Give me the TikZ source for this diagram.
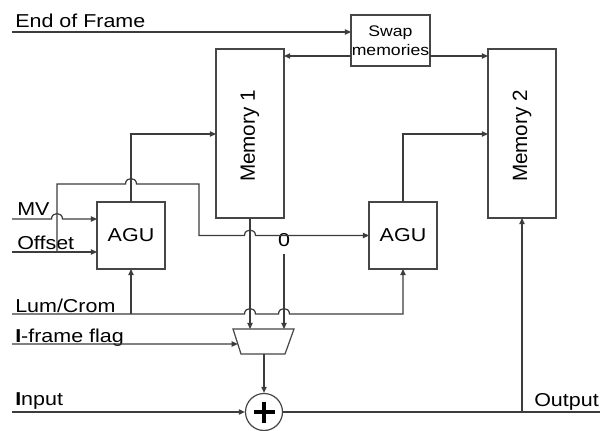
\documentclass[tikz,border=0pt]{standalone}
\usepackage{fontspec}
\setmainfont{Liberation Sans}[FakeStretch=1.15]
\newfontfamily\memfont{Liberation Sans}
\usetikzlibrary{arrows.meta,calc}
\definecolor{linec}{RGB}{60,60,60}
\definecolor{boxc}{RGB}{70,70,70}
\newcommand\hopover[2]{-- ({#1-5.5},#2) .. controls ({#1-5.5},{#2-7.3}) and ({#1+5.5},{#2-7.3}) .. ({#1+5.5},#2)}
\begin{document}
\begin{tikzpicture}[x=0.75pt,y=-0.75pt,
  conn/.style={draw=linec, line width=0.9pt},
  arr/.style={-{Triangle[length=4.6pt,width=4pt]}},
  box/.style={draw=boxc, line width=0.9pt, fill=white, inner sep=0pt, outer sep=0pt},
  membox/.style={box, minimum width=51pt, minimum height=126.75pt},
  agubox/.style={box, minimum width=51pt, minimum height=50.25pt, font=\fontsize{14}{16}\selectfont},
  lbl/.style={anchor=base west, inner sep=0pt, font=\fontsize{14}{16}\selectfont},
  memtxt/.style={rotate=90, font=\memfont\fontsize{15.5}{18}\selectfont}
]
\fill[white] (0,0) rectangle (600,431);
\useasboundingbox (0,0) rectangle (600,431);

% boxes
\node[box, minimum width=59.25pt, minimum height=38.25pt, align=center,
      font=\fontsize{11.5}{14}\selectfont] (swap) at (390.5,40.5) {Swap\\memories};
\node[membox] (mem1) at (250,133.5) {};
\node[memtxt] (mem1t) at (250,136) {Memory 1};
\node[membox] (mem2) at (522,133.5) {};
\node[memtxt] (mem2t) at (522,136) {Memory 2};
\node[agubox] (agu1) at (131,235.5) {AGU};
\node[agubox] (agu2) at (403,235.5) {AGU};
\node[draw=boxc, line width=0.9pt, circle, minimum size=27.75pt, inner sep=0pt] (adder) at (264,412) {};
\draw[line width=3.2pt, black] ($(adder)+(-10.5,0)$) -- ($(adder)+(10.5,0)$)
      ($(adder)+(0,-10.5)$) -- ($(adder)+(0,10.5)$);

% multiplexer
\coordinate (muxTL) at (233,329);
\coordinate (muxTR) at (294,329);
\coordinate (muxBR) at (285,354);
\coordinate (muxBL) at (241,354);
\coordinate (muxB) at (264,354);
\draw[box] (muxTL) -- (muxTR) -- (muxBR) -- (muxBL) -- cycle;

% labels
\node[lbl] (tEOF) at (15,27.5) {End of Frame};
\node[lbl] (tMV) at (17,216) {MV};
\node[lbl] (tOff) at (17,249) {Offset};
\node[lbl] (tLum) at (15,312.5) {Lum/Crom};
\node[lbl] (tIfr) at (15,342) {\textbf{I}-frame flag};
\node[lbl] (tIn) at (15,405.5) {\textbf{I}nput};
\node[lbl, anchor=base east] (tOut) at (599,406) {Output};
\node[inner sep=0pt, font=\fontsize{14}{16}\selectfont] (zero) at (284,240.5) {0};

% start coordinates
\coordinate (eofS) at (12,32);
\coordinate (mvS) at (12,219);
\coordinate (offS) at (12,252);
\coordinate (offB) at (57,252);
\coordinate (lumS) at (12,314);
\coordinate (ifrS) at (12,344);
\coordinate (inS) at (12,412);
\coordinate (outE) at (600,412);
\coordinate (zeroS) at (284,254);

% connectors
\draw[conn,arr] (eofS) -- (eofS -| swap.west);
\draw[conn,arr] (swap.west |- 0,56) -- (mem1.east |- 0,56);
\draw[conn,arr] (swap.east |- 0,56) -- (mem2.west |- 0,56);

\draw[conn,arr] (agu1.north) -- (131,134) -- (mem1.west |- 0,134);
\draw[conn,arr] (agu2.north) -- (403,134) -- (mem2.west |- 0,134);

\draw[conn,arr] (mvS) \hopover{57}{219} -- (agu1.west |- mvS);
\draw[conn,arr] (offS) -- (agu1.west |- offS);
\draw[conn,arr] (offB) -- (57,184) \hopover{131}{184} -- (199,184) -- (199,235.5) \hopover{250}{235.5} -- (agu2.west);

\draw[conn,arr] (lumS) \hopover{250}{314} \hopover{284}{314} -- (403,314) -- (agu2.south);
\draw[conn,arr] (agu1.south |- lumS) -- (agu1.south);

\draw[conn,arr] (mem1.south) -- (mem1.south |- muxTL);
\draw[conn,arr] (zeroS) -- (zeroS |- muxTL);
\draw[conn,arr] (ifrS) -- ($(muxTL)!0.6!(muxBL)$);
\draw[conn,arr] (muxB) -- (adder.north);
\draw[conn,arr] (inS) -- (adder.west);
\draw[conn] (adder.east) -- (outE);
\draw[conn,arr] (mem2.south |- outE) -- (mem2.south);
\end{tikzpicture}
\end{document}
